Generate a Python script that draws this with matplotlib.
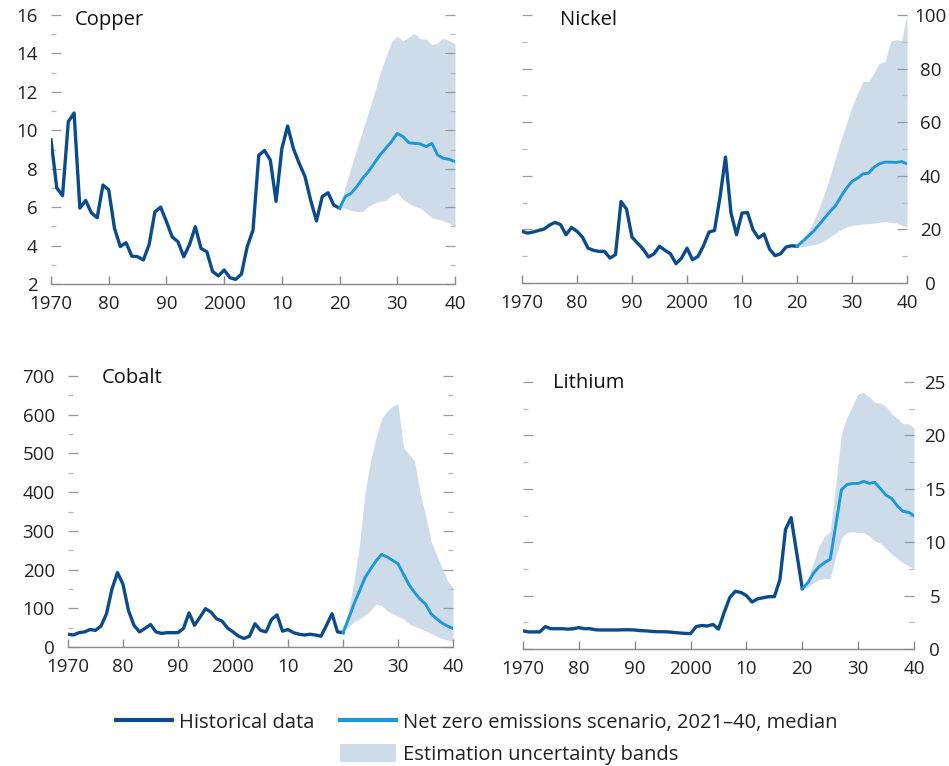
import matplotlib
matplotlib.use("Agg")
import matplotlib.pyplot as plt
from matplotlib.lines import Line2D
from matplotlib.patches import Patch
from matplotlib.ticker import MultipleLocator

plt.rcParams["font.family"] = ["Open Sans", "DejaVu Sans"]

HIST_COLOR = "#0b4a8b"
PROJ_COLOR = "#1b98d5"
BAND_COLOR = "#cedcea"

hist_years = list(range(1970, 2021))
proj_years = list(range(2020, 2041))

# Copper
copper_hist = [9.5, 7.0, 6.6, 10.45, 10.9, 5.95, 6.35, 5.7, 5.45, 7.15,
               6.9, 4.9, 3.95, 4.15, 3.45, 3.42, 3.25, 4.05, 5.75, 6.0,
               5.25, 4.45, 4.2, 3.42, 4.05, 4.98, 3.85, 3.68, 2.65, 2.42,
               2.73, 2.33, 2.24, 2.52, 3.95, 4.8, 8.7, 8.95, 8.45, 6.3,
               9.05, 10.22, 9.05, 8.28, 7.6, 6.35, 5.28, 6.55, 6.75, 6.1,
               5.95]
copper_med = [5.95, 6.55, 6.72, 7.07, 7.5, 7.85, 8.28, 8.71, 9.06, 9.41,
              9.84, 9.67, 9.35, 9.32, 9.29, 9.15, 9.32, 8.71, 8.54, 8.49,
              8.37]
copper_hi = [5.95, 7.1, 8.1, 9.05, 10.0, 10.95, 11.9, 12.95, 13.8, 14.6,
             14.9, 14.65, 14.85, 15.05, 14.75, 14.75, 14.45, 14.55, 14.8, 14.65,
             14.5]
copper_lo = [5.95, 5.95, 5.82, 5.77, 5.77, 6.05, 6.2, 6.3, 6.35, 6.6,
             6.75, 6.4, 6.2, 6.05, 5.94, 5.7, 5.45, 5.38, 5.3, 5.15,
             4.98]

# Nickel
nickel_hist = [19.3, 18.6, 19.0, 19.6, 20.1, 21.6, 22.6, 21.8, 18.0, 20.7,
               19.3, 17.1, 13.0, 12.2, 11.8, 11.8, 9.3, 10.6, 30.4, 27.6,
               17.1, 14.9, 12.7, 9.7, 10.9, 13.7, 12.2, 10.9, 7.2, 9.3,
               13.0, 8.7, 9.9, 13.9, 19.0, 19.6, 32.0, 47.0, 26.1, 18.0,
               26.1, 26.3, 19.9, 16.8, 18.3, 12.7, 10.2, 10.9, 13.4, 13.9,
               13.7]
nickel_med = [13.7, 15.5, 17.4, 19.3, 21.7, 24.2, 26.7, 28.8, 32.3, 35.4,
              37.9, 39.1, 40.7, 41.0, 43.2, 44.5, 45.1, 45.1, 45.0, 45.3,
              44.5]
nickel_hi = [13.7, 16.1, 19.3, 23.0, 28.0, 33.5, 39.8, 46.6, 53.4, 59.6,
             65.8, 70.8, 75.2, 75.2, 78.3, 82.0, 82.6, 90.1, 90.9, 90.4,
             100.0]
nickel_lo = [13.7, 13.4, 13.9, 14.3, 14.7, 15.9, 17.1, 18.6, 19.9, 20.9,
             21.5, 21.7, 22.1, 22.1, 22.4, 22.6, 23.0, 22.6, 22.4, 21.7,
             20.9]

# Cobalt
cobalt_hist = [33, 31, 37, 39, 45, 43, 54, 86, 150, 192,
               162, 94, 56, 39, 48, 58, 39, 35, 37, 37,
               37, 48, 88, 56, 77, 99, 90, 73, 67, 49,
               39, 28, 22, 28, 60, 43, 39, 71, 83, 41,
               45, 37, 33, 31, 33, 31, 28, 56, 86, 39,
               37]
cobalt_med = [37, 73, 111, 145, 179, 201, 222, 239, 233, 224,
              215, 188, 161, 141, 124, 111, 86, 73, 62, 54,
              48]
cobalt_hi = [37, 94, 171, 264, 400, 480, 540, 590, 609, 622,
             628, 515, 498, 481, 400, 341, 273, 239, 205, 171,
             154]
cobalt_lo = [37, 52, 65, 73, 82, 94, 111, 107, 94, 86,
             79, 73, 60, 54, 48, 42, 35, 28, 22, 18,
             14]

# Lithium
lithium_hist = [1.7, 1.6, 1.6, 1.6, 2.1, 1.9, 1.9, 1.9, 1.86, 1.9,
                2.0, 1.9, 1.9, 1.8, 1.78, 1.78, 1.78, 1.78, 1.8, 1.8,
                1.78, 1.72, 1.7, 1.65, 1.62, 1.62, 1.6, 1.55, 1.5, 1.46,
                1.44, 2.1, 2.2, 2.15, 2.3, 1.86, 3.4, 4.8, 5.4, 5.3,
                5.0, 4.4, 4.7, 4.8, 4.9, 4.9, 6.5, 11.2, 12.3, 9.0,
                5.65]
lithium_med = [5.65, 6.2, 7.1, 7.7, 8.1, 8.4, 11.6, 14.9, 15.4, 15.5,
               15.5, 15.7, 15.5, 15.6, 15.0, 14.4, 14.1, 13.4, 12.9, 12.8,
               12.5]
lithium_hi = [5.65, 6.5, 8.1, 9.6, 10.6, 11.0, 15.5, 20.2, 21.7, 22.8,
              23.9, 24.0, 23.6, 23.1, 23.0, 22.7, 22.0, 21.6, 21.1, 21.1,
              20.7]
lithium_lo = [5.65, 5.8, 6.2, 6.5, 6.6, 6.6, 8.7, 10.4, 10.9, 11.0,
              10.9, 10.9, 10.6, 10.1, 9.9, 9.4, 8.9, 8.5, 8.1, 7.8,
              7.5]

year_ticks = [1970, 1980, 1990, 2000, 2010, 2020, 2030, 2040]
year_labels = ["1970", "80", "90", "2000", "10", "20", "30", "40"]

W, H = 949, 766
fig = plt.figure(figsize=(W / 100, H / 100), dpi=100)


def px_axes(left, right, top, bottom):
    return fig.add_axes([left / W, 1 - bottom / H, (right - left) / W, (bottom - top) / H])


panels = [
    # name, axes box (px), data, ylim, major, minor, label side, right pad, title pos
    ("Copper", (51, 455, 15, 284), copper_hist, copper_med, copper_hi, copper_lo,
     (2, 16), 2, 1, "left", 0, (0.059, 0.981)),
    ("Nickel", (522, 907, 15, 283), nickel_hist, nickel_med, nickel_hi, nickel_lo,
     (0, 100), 20, 10, "right", 17, (0.099, 0.981)),
    ("Cobalt", (68, 453, 376, 647), cobalt_hist, cobalt_med, cobalt_hi, cobalt_lo,
     (0, 700), 100, 50, "left", 0, (0.088, 0.993)),
    ("Lithium", (523, 914, 382, 649), lithium_hist, lithium_med, lithium_hi, lithium_lo,
     (0, 25), 5, 2.5, "right", 15, (0.077, 0.996)),
]

for name, box, hist, med, hi, lo, ylim, major, minor, side, rpad, tpos in panels:
    ax = px_axes(*box)
    ax.fill_between(proj_years, lo, hi, color=BAND_COLOR, lw=0, zorder=1)
    ax.plot(hist_years, hist, color=HIST_COLOR, lw=2.4, zorder=3,
            solid_joinstyle="round")
    ax.plot(proj_years, med, color=PROJ_COLOR, lw=2.1, zorder=3,
            solid_joinstyle="round")

    ax.set_xlim(1970, 2040)
    ax.set_ylim(*ylim)
    ax.set_xticks(year_ticks)
    ax.set_xticklabels(year_labels)
    ax.yaxis.set_major_locator(MultipleLocator(major))
    ax.yaxis.set_minor_locator(MultipleLocator(minor))

    for s in ["top", "left", "right"]:
        ax.spines[s].set_visible(False)
    ax.spines["bottom"].set_color("#8a8a8a")
    ax.spines["bottom"].set_linewidth(1.0)

    ax.tick_params(axis="x", direction="in", length=6, width=1.0, color="#8a8a8a",
                   labelsize=13.5, labelcolor="#222222", pad=8)
    ax.tick_params(axis="y", which="major", direction="in", length=7, width=0.9,
                   color="#9a9a9a", left=True, right=True, labelsize=13.5,
                   labelcolor="#222222")
    ax.tick_params(axis="y", which="minor", direction="in", length=3.5, width=0.9,
                   color="#b8b8b8", left=True, right=True)
    if side == "left":
        ax.tick_params(axis="y", labelleft=True, labelright=False, pad=9.5)
    else:
        ax.tick_params(axis="y", labelleft=False, labelright=True, pad=rpad)
        for lab in ax.yaxis.get_majorticklabels():
            lab.set_horizontalalignment("center")

    ax.text(tpos[0], tpos[1], name, transform=ax.transAxes, fontsize=14.5,
            color="#111111", va="center", ha="left")

handles = [
    Line2D([], [], color=HIST_COLOR, lw=3),
    Line2D([], [], alpha=0),
    Line2D([], [], color=PROJ_COLOR, lw=3),
    Patch(facecolor=BAND_COLOR, edgecolor="none"),
]
labels = ["Historical data", "", "Net zero emissions scenario, 2021\u201340, median",
          "Estimation uncertainty bands"]
fig.legend(handles, labels, ncol=2, loc="upper left",
           bbox_to_anchor=(116 / W, 1 - 712 / H), frameon=False, fontsize=14.5,
           handlelength=2.8, handleheight=1.0, handletextpad=0.35,
           columnspacing=1.25, labelspacing=0.55, borderpad=0, borderaxespad=0,
           labelcolor="#222222")

fig.savefig("out.png", dpi=100)
